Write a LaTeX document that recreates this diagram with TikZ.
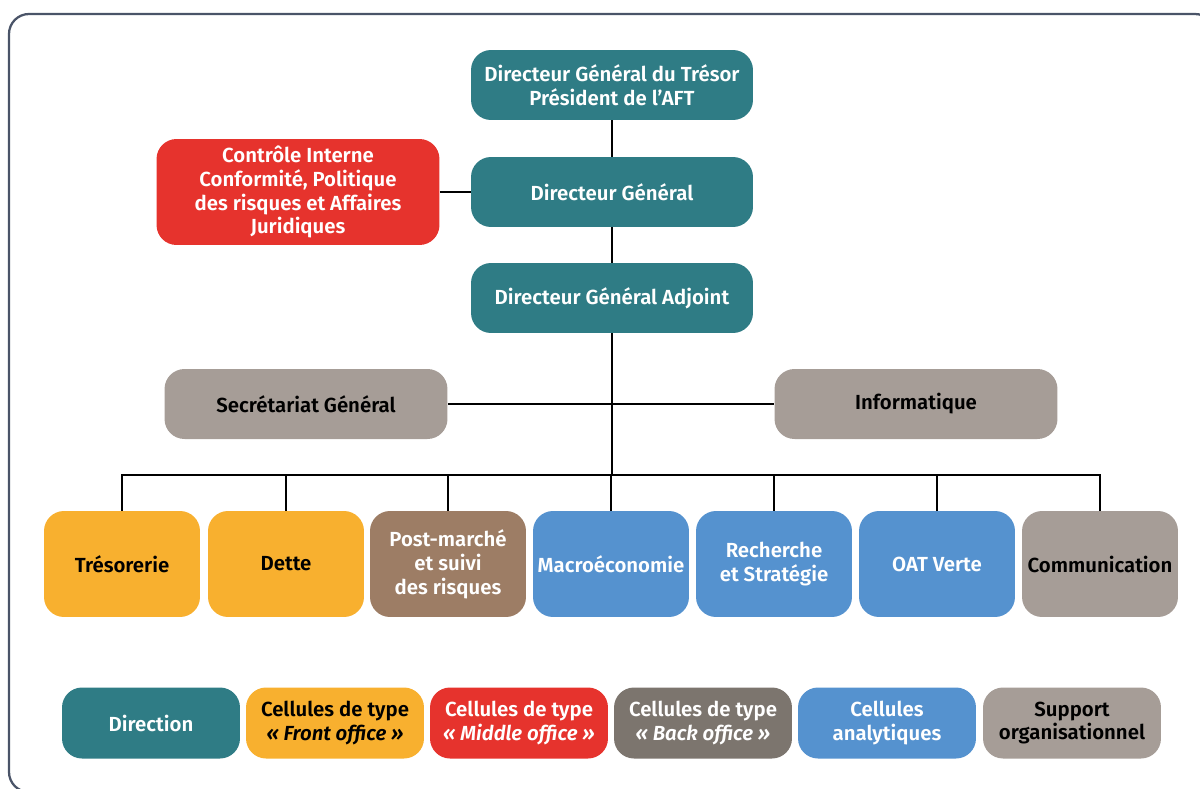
\documentclass[tikz,border=0pt]{standalone}
\usepackage{fontspec}
\setmainfont{Fira Sans}[BoldFont={Fira Sans SemiBold},BoldItalicFont={Fira Sans SemiBold Italic}]
\usetikzlibrary{positioning}

\definecolor{dirteal}{RGB}{47,124,133}
\definecolor{midred}{RGB}{230,51,45}
\definecolor{frontyel}{RGB}{248,176,47}
\definecolor{postbrown}{RGB}{157,125,101}
\definecolor{anablue}{RGB}{85,146,207}
\definecolor{suppgrey}{RGB}{166,157,151}
\definecolor{backgrey}{RGB}{124,117,110}
\definecolor{framecol}{RGB}{74,84,104}

\begin{document}
\begin{tikzpicture}[x=0.02cm,y=-0.02cm,font=\bfseries\fontsize{11.6}{13.6}\selectfont]
  \tikzstyle{cell}=[rounded corners=0.4cm, align=center, inner sep=1pt]
  \tikzstyle{head}=[cell, fill=dirteal, text=white, minimum width=5.64cm, minimum height=1.4cm]
  \tikzstyle{side}=[cell, minimum width=5.66cm, minimum height=1.4cm]
  \tikzstyle{unit}=[cell, minimum width=3.12cm, minimum height=2.12cm]
  \tikzstyle{key}=[cell, minimum width=3.56cm, minimum height=1.42cm]
  \tikzstyle{link}=[draw=black, line width=0.04cm]

  \useasboundingbox (0,0) rectangle (1200,788);
  \draw[framecol, line width=0.045cm, rounded corners=0.4cm] (9,14) rectangle (1215,792);

  % direction
  \node[head] (dgt) at (612,85)  {Directeur Général du Trésor\\Président de l’AFT};
  \node[head] (dg)  at (612,192) {Directeur Général};
  \node[head] (dga) at (612,298) {Directeur Général Adjoint};
  \node[side, fill=midred, text=white, minimum height=2.12cm] (ci) at (298,192)
    {Contrôle Interne\\Conformité, Politique\\des risques et Affaires\\Juridiques};

  % support
  \node[side, fill=suppgrey, text=black] (sg)   at (306,404) {Secrétariat Général};
  \node[side, fill=suppgrey, text=black] (info) at (916,404) {Informatique};

  % cellules
  \node[unit, fill=frontyel, text=black]  (tres) at (122,564)  {Trésorerie};
  \node[unit, fill=frontyel, text=black]  (dette) at (286,564) {Dette};
  \node[unit, fill=postbrown, text=white] (post) at (448,564)  {Post-marché\\et suivi\\des risques};
  \node[unit, fill=anablue, text=white]   (macro) at (611,564) {Macroéconomie};
  \node[unit, fill=anablue, text=white]   (rech) at (774,564)  {Recherche\\et Stratégie};
  \node[unit, fill=anablue, text=white]   (oat) at (937,564)   {OAT Verte};
  \node[unit, fill=suppgrey, text=black]  (comm) at (1100,564) {Communication};

  % legend
  \node[key, fill=dirteal, text=white]   (kdir)  at (151,723)  {Direction};
  \node[key, fill=frontyel, text=black]  (kfront) at (335,723) {Cellules de type\\\textit{« Front office »}};
  \node[key, fill=midred, text=white]    (kmid)  at (519,723)  {Cellules de type\\\textit{« Middle office »}};
  \node[key, fill=backgrey, text=white]  (kback) at (703,723)  {Cellules de type\\\textit{« Back office »}};
  \node[key, fill=anablue, text=white]   (kana)  at (887,723)  {Cellules\\analytiques};
  \node[key, fill=suppgrey, text=black]  (ksupp) at (1072,723) {Support\\organisationnel};

  % links
  \coordinate (bus) at (612,475);
  \draw[link] (dgt) -- (dg);
  \draw[link] (ci) -- (dg);
  \draw[link] (dg) -- (dga);
  \draw[link] (sg) -- (info);
  \draw[link] (dga) -- (bus);
  \draw[link] (tres.north) |- (bus) -| (comm.north);
  \foreach \c in {dette,post,macro,rech,oat}
    \draw[link] (\c.north) -- (\c.north |- bus);
\end{tikzpicture}
\end{document}
